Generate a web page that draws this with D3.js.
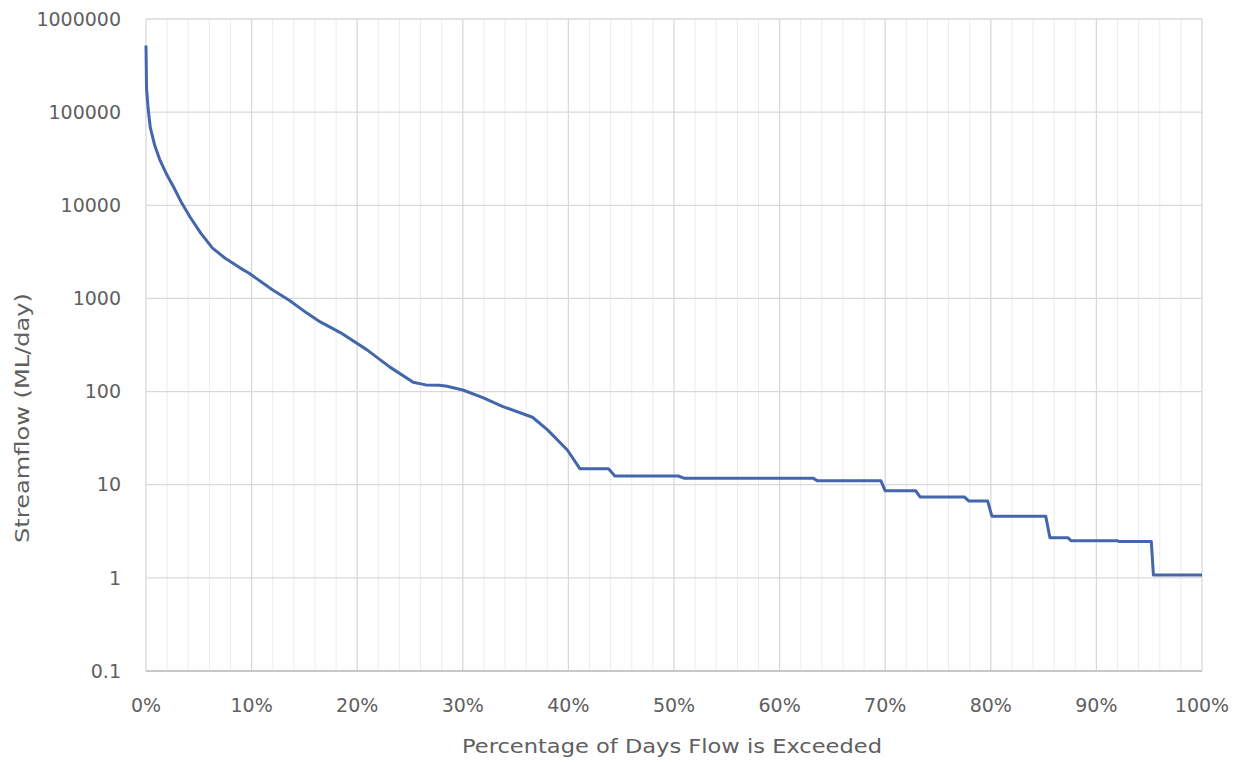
<!DOCTYPE html>
<html><head><meta charset="utf-8">
<script src="https://cdn.jsdelivr.net/npm/d3@7"></script>
<style>
body{margin:0;background:#fff;}
svg{display:block;}
text{font-family:"DejaVu Sans",sans-serif;fill:#606060;}
</style></head>
<body><svg id="c" width="1241" height="764"></svg>
<script>
// Percentage of days flow is exceeded (%)
const percent = [0,0.05,0.2,0.4,0.8,1.3,2.0,2.6,3.4,4.2,5.2,6.3,7.5,8.9,9.8,12.0,13.6,15.2,16.5,18.4,20.9,23.1,25.3,26.5,27.8,28.5,30.0,31.9,33.8,36.6,38.0,39.9,41.1,43.8,44.4,50.4,51.0,63.2,63.6,69.6,70.0,72.9,73.3,77.5,77.9,79.7,80.1,85.2,85.6,87.3,87.6,92.0,92.2,95.2,95.4,100];
// Streamflow (ML/day)
const flow = [520000,180000,110000,69000,45000,31000,21000,15800,10500,7400,5000,3470,2700,2130,1850,1230,950,700,560,430,282,183,126,118,117,114,104,86,69,53,39,23.6,14.8,14.8,12.4,12.4,11.7,11.7,11.0,11.0,8.6,8.6,7.4,7.4,6.7,6.7,4.6,4.6,2.7,2.7,2.5,2.5,2.45,2.45,1.07,1.07];
const yTickValues = [0.1,1,10,100,1000,10000,100000,1000000];
const yTickLabels = ["0.1","1","10","100","1000","10000","100000","1000000"];
const xMajorTicks = [0,10,20,30,40,50,60,70,80,90,100];
const xMinorTicks = d3.range(0,101,2);
const xTitle = "Percentage of Days Flow is Exceeded";
const yTitle = "Streamflow (ML/day)";

const svg = d3.select("#c");
const L=146, R=1202, T=19, B=671;
const x = d3.scaleLinear().domain([0,100]).range([L,R]);
const y = d3.scaleLog().domain([0.1,1000000]).range([B,T]);

const g = svg.append("g");
// minor vertical grid
g.selectAll(".vmin").data(xMinorTicks.filter(d=>d%10!==0)).join("line")
  .attr("x1",d=>x(d)).attr("x2",d=>x(d)).attr("y1",T).attr("y2",B)
  .attr("stroke","#ececec").attr("stroke-width",1);
// major vertical grid
g.selectAll(".vmaj").data(xMajorTicks).join("line")
  .attr("x1",d=>x(d)).attr("x2",d=>x(d)).attr("y1",T).attr("y2",B)
  .attr("stroke","#d9d9d9").attr("stroke-width",1.3);
// horizontal grid
g.selectAll(".h").data(yTickValues.slice(1)).join("line")
  .attr("x1",L).attr("x2",R).attr("y1",d=>y(d)).attr("y2",d=>y(d))
  .attr("stroke","#d9d9d9").attr("stroke-width",1.3);
// bottom axis line
g.append("line").attr("x1",L).attr("x2",R).attr("y1",y(0.1)).attr("y2",y(0.1))
  .attr("stroke","#c8c8c8").attr("stroke-width",2);

// Y tick labels
svg.selectAll(".yl").data(yTickValues).join("text")
  .attr("x",L-25).attr("y",d=>y(d)).attr("dy","0.35em")
  .attr("text-anchor","end").attr("font-size",19)
  .text((d,i)=>yTickLabels[i]);
// X tick labels
svg.selectAll(".xl").data(xMajorTicks).join("text")
  .attr("x",d=>x(d)).attr("y",B+34).attr("dy","0.35em")
  .attr("text-anchor","middle").attr("font-size",19)
  .text(d=>d+"%");
// titles
svg.append("text").attr("x",672).attr("y",746).attr("dy","0.35em")
  .attr("text-anchor","middle").attr("font-size",20)
  .attr("textLength",420).attr("lengthAdjust","spacingAndGlyphs").text(xTitle);
svg.append("text").attr("transform",`translate(22,418) rotate(-90)`)
  .attr("dy","0.35em").attr("text-anchor","middle").attr("font-size",20)
  .attr("textLength",250).attr("lengthAdjust","spacingAndGlyphs").text(yTitle);

// line
const line = d3.line().x((d,i)=>x(percent[i])).y(d=>y(d));
svg.append("path").datum(flow).attr("d",line)
  .attr("fill","none").attr("stroke","#4466aa").attr("stroke-width",3)
  .attr("stroke-linejoin","round");
</script></body></html>
